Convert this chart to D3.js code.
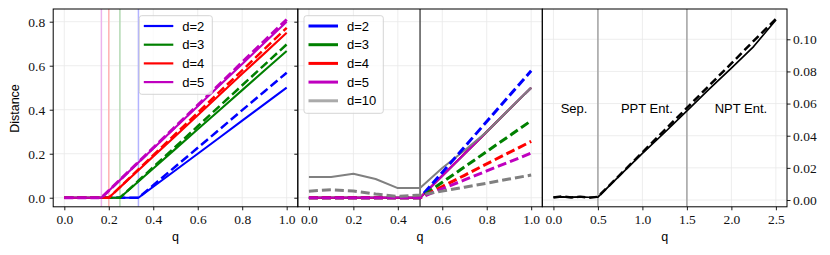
<!DOCTYPE html>
<html><head><meta charset="utf-8">
<script src="https://cdn.jsdelivr.net/npm/d3@7"></script>
<style>body{margin:0;background:#fff}svg{display:block}</style>
</head><body>
<script>
// ---------------- DATA ----------------
const p1Labels = ["d=2","d=3","d=4","d=5"];
const p1Q = [0, 0.1667, 0.2, 0.25, 0.3333, 0.4, 0.5, 0.6, 0.7, 0.8, 0.9, 1.0];
const p1SolidD2 = [0,0,0,0,0,0.05,0.125,0.2,0.275,0.35,0.425,0.5];
const p1SolidD3 = [0,0,0,0,0.074,0.133,0.222,0.311,0.4,0.489,0.578,0.667];
const p1SolidD4 = [0,0,0,0.047,0.125,0.188,0.281,0.375,0.469,0.563,0.656,0.75];
const p1SolidD5 = [0,0,0.032,0.08,0.16,0.224,0.32,0.416,0.512,0.608,0.704,0.8];
const p1DashD2 = [0,0,0,0,0,0.057,0.142,0.227,0.312,0.398,0.483,0.568];
const p1DashD3 = [0,0,0,0,0.077,0.139,0.232,0.325,0.418,0.511,0.604,0.697];
const p1DashD4 = [0,0,0,0.048,0.129,0.193,0.29,0.386,0.483,0.579,0.676,0.772];
const p1DashD5 = [0,0,0.032,0.081,0.162,0.227,0.324,0.421,0.518,0.616,0.713,0.81];
const p1Thresholds = [0.3333, 0.25, 0.2, 0.1667];

const p2Labels = ["d=2","d=3","d=4","d=5","d=10"];
const p2Q = [0,0.1,0.2,0.3,0.4,0.5,0.6,0.7,0.8,0.9,1.0];
const p2SolidD2 = [0,0,0,0,0,0,0.1,0.2,0.3,0.4,0.5];
const p2SolidD3 = [0,0,0,0,0,0,0.1,0.2,0.3,0.4,0.5];
const p2SolidD4 = [0,0,0,0,0,0,0.1,0.2,0.3,0.4,0.5];
const p2SolidD5 = [0,0,0,0,0,0,0.1,0.2,0.3,0.4,0.5];
const p2SolidD10 = [0.094,0.094,0.109,0.085,0.044,0.044,0.135,0.215,0.3,0.4,0.5];
const p2DashD2 = [0,0,0,0,0,0,0.115,0.231,0.346,0.462,0.577];
const p2DashD3 = [0,0,0,0,0,0,0.07,0.14,0.21,0.28,0.35];
const p2DashD4 = [0,0,0,0,0,0,0.051,0.102,0.154,0.205,0.256];
const p2DashD5 = [0,0,0,0,0,0,0.041,0.081,0.122,0.162,0.203];
const p2DashD10 = [0.030,0.036,0.031,0.017,0.006,0.012,0.030,0.048,0.066,0.085,0.103];
const p2Threshold = 0.5;

const p3Q = [0,0.1,0.2,0.3,0.4,0.5,0.75,1.0,1.25,1.5,1.75,2.0,2.25,2.5];
const p3Solid = [0.0018,0.0019,0.0018,0.0019,0.0017,0.0018,0.0155,0.029,0.042,0.0555,0.069,0.082,0.0955,0.112];
const p3Dash = [0.0015,0.0022,0.0016,0.0021,0.0014,0.0020,0.0158,0.0296,0.0435,0.0573,0.0712,0.085,0.099,0.1126];
const p3Bounds = [0.5, 1.5];
const p3Regions = ["Sep.","PPT Ent.","NPT Ent."];
const p3RegionQ = [0.232, 1.05, 2.107];
const p3RegionY = 0.057;

const p12XTicks = [0,0.2,0.4,0.6,0.8,1.0];
const p12YTicks = [0,0.2,0.4,0.6,0.8];
const p3XTicks = [0,0.5,1.0,1.5,2.0,2.5];
const p3YTicks = [0,0.02,0.04,0.06,0.08,0.10];

// ---------------- STYLE ----------------
const colors = ["#0000ff","#008000","#ff0000","#bf00bf","#808080"];
const fadedColors = ["#b3b3ff","#b3d9b3","#ffb3b3","#ecb3ec"];
const serif = "'Liberation Serif', 'Times New Roman', serif";
const sans = "'Liberation Sans', Arial, sans-serif";

const W = 830, H = 255;
const yTop = 9, yBot = 206.8;
const svg = d3.select("body").append("svg").attr("width", W).attr("height", H);

const x1 = d3.scaleLinear().domain([-0.05,1.05]).range([53.2,297.8]);
const x2 = d3.scaleLinear().domain([-0.05,1.05]).range([297.8,542.3]);
const x3 = d3.scaleLinear().domain([-0.125,2.625]).range([542.3,787]);
const y12 = d3.scaleLinear().domain([-0.0412,0.8577]).range([yBot, yTop]);
const y3 = d3.scaleLinear().domain([-0.00423,0.11885]).range([yBot, yTop]);

function grid(g, x, y, xt, yt) {
  const [xa, xb] = x.range();
  g.selectAll(null).data(xt).enter().append("line")
    .attr("x1", d=>x(d)).attr("x2", d=>x(d)).attr("y1", yTop).attr("y2", yBot)
    .attr("stroke", "#e8e8e8").attr("stroke-width", 0.8);
  g.selectAll(null).data(yt).enter().append("line")
    .attr("x1", xa).attr("x2", xb).attr("y1", d=>y(d)).attr("y2", d=>y(d))
    .attr("stroke", "#e8e8e8").attr("stroke-width", 0.8);
}
function clip(id, x) {
  const [a,b] = x.range();
  svg.append("clipPath").attr("id", id).append("rect")
    .attr("x", a).attr("y", yTop).attr("width", b-a).attr("height", yBot-yTop);
}
clip("c1", x1); clip("c2", x2); clip("c3", x3);

function series(g, x, y, q, v, color, width, dash) {
  g.append("path").datum(q.map((d,i)=>[d, v[i]]))
    .attr("d", d3.line().x(d=>x(d[0])).y(d=>y(d[1])))
    .attr("fill","none").attr("stroke", color).attr("stroke-width", width)
    .attr("stroke-dasharray", dash || null)
    .attr("stroke-linejoin","round");
}

function styleAxis(ax) {
  ax.select(".domain").remove();
  ax.selectAll("line").attr("stroke","#000").attr("stroke-width",0.9);
  ax.selectAll("text").attr("font-family", serif).attr("font-size", 13.5).attr("fill","#111");
}

// ---------- Panel 1 ----------
const g1 = svg.append("g");
grid(g1, x1, y12, p12XTicks, p12YTicks);
const g1c = g1.append("g").attr("clip-path","url(#c1)");
p1Thresholds.forEach((t,i) => {
  g1c.append("line").attr("x1", x1(t)).attr("x2", x1(t)).attr("y1", yTop).attr("y2", yBot)
    .attr("stroke", fadedColors[i]).attr("stroke-width", 1.5);
});
const p1S = [p1SolidD2,p1SolidD3,p1SolidD4,p1SolidD5];
const p1D = [p1DashD2,p1DashD3,p1DashD4,p1DashD5];
p1S.forEach((s,i) => {
  series(g1c, x1, y12, p1Q, s, colors[i], 2.1);
  series(g1c, x1, y12, p1Q, p1D[i], colors[i], i===3 ? 3 : 2.5, "9,4");
});

// ---------- Panel 2 ----------
const g2 = svg.append("g");
grid(g2, x2, y12, p12XTicks, p12YTicks);
const g2c = g2.append("g").attr("clip-path","url(#c2)");
g2c.append("line").attr("x1", x2(p2Threshold)).attr("x2", x2(p2Threshold)).attr("y1", yTop).attr("y2", yBot)
  .attr("stroke", "#555").attr("stroke-width", 1.5);
const p2S = [p2SolidD2,p2SolidD3,p2SolidD4,p2SolidD5,p2SolidD10];
const p2D = [p2DashD2,p2DashD3,p2DashD4,p2DashD5,p2DashD10];
p2S.forEach((s,i) => series(g2c, x2, y12, p2Q, s, colors[i], 2));
p2D.forEach((s,i) => series(g2c, x2, y12, p2Q, s, colors[i], 3, "9,4"));

// ---------- Panel 3 ----------
const g3 = svg.append("g");
grid(g3, x3, y3, p3XTicks, p3YTicks);
const g3c = g3.append("g").attr("clip-path","url(#c3)");
p3Bounds.forEach(b => {
  g3c.append("line").attr("x1", x3(b)).attr("x2", x3(b)).attr("y1", yTop).attr("y2", yBot)
    .attr("stroke", "#a8a8a8").attr("stroke-width", 1.6);
});
series(g3c, x3, y3, p3Q, p3Solid, "#000", 1.7);
series(g3c, x3, y3, p3Q, p3Dash, "#000", 2.5, "8,4");
p3Regions.forEach((t,i) => {
  g3.append("text").attr("x", x3(p3RegionQ[i])).attr("y", y3(p3RegionY))
    .attr("text-anchor","middle").attr("dominant-baseline","central")
    .attr("font-family", sans).attr("font-size", 13).text(t);
});

// ---------- Axes ----------
const fmt1 = d3.format(".1f"), fmt2 = d3.format(".2f");
styleAxis(svg.append("g").attr("transform",`translate(0,${yBot})`)
  .call(d3.axisBottom(x1).tickValues(p12XTicks).tickFormat(fmt1).tickSize(3.5).tickPadding(4)));
styleAxis(svg.append("g").attr("transform",`translate(0,${yBot})`)
  .call(d3.axisBottom(x2).tickValues(p12XTicks).tickFormat(fmt1).tickSize(3.5).tickPadding(4)));
styleAxis(svg.append("g").attr("transform",`translate(0,${yBot})`)
  .call(d3.axisBottom(x3).tickValues(p3XTicks).tickFormat(fmt1).tickSize(3.5).tickPadding(4)));
styleAxis(svg.append("g").attr("transform",`translate(${x1.range()[0]},0)`)
  .call(d3.axisLeft(y12).tickValues(p12YTicks).tickFormat(fmt1).tickSize(3.5).tickPadding(4.5)));
styleAxis(svg.append("g").attr("transform",`translate(${x2.range()[0]},0)`)
  .call(d3.axisLeft(y12).tickValues(p12YTicks).tickFormat("").tickSize(3.5)));
styleAxis(svg.append("g").attr("transform",`translate(${x3.range()[1]},0)`)
  .call(d3.axisRight(y3).tickValues(p3YTicks).tickFormat(fmt2).tickSize(3.5).tickPadding(2.5)));

// frames
[x1,x2,x3].forEach(x => {
  const [a,b] = x.range();
  svg.append("rect").attr("x", a).attr("y", yTop).attr("width", b-a).attr("height", yBot-yTop)
    .attr("fill","none").attr("stroke","#000").attr("stroke-width",1);
});

// labels
[x1,x2,x3].forEach(x => {
  const [a,b] = x.range();
  svg.append("text").attr("x", (a+b)/2).attr("y", 241).attr("text-anchor","middle")
    .attr("font-family", sans).attr("font-size", 12.5).text("q");
});
svg.append("text").attr("transform","translate(18.5,108.5) rotate(-90)").attr("text-anchor","middle")
  .attr("font-family", sans).attr("font-size", 12.5).text("Distance");

// ---------- Legends ----------
function legend(x0, y0, w, h, labels, lineW, handleColors) {
  const g = svg.append("g");
  g.append("rect").attr("x", x0).attr("y", y0).attr("width", w).attr("height", h).attr("rx", 2.5)
    .attr("fill","#fff").attr("fill-opacity",0.8).attr("stroke","#d0d0d0").attr("stroke-width",0.9);
  labels.forEach((l,i) => {
    const yy = y0 + 10.3 + i*18.7;
    g.append("line").attr("x1", x0+4.5).attr("x2", x0+34).attr("y1", yy).attr("y2", yy)
      .attr("stroke", handleColors[i]).attr("stroke-width", lineW);
    g.append("text").attr("x", x0+43).attr("y", yy).attr("dominant-baseline","central")
      .attr("font-family", sans).attr("font-size", 13).text(l);
  });
}
legend(139.3, 15.7, 73, 78.6, p1Labels, 2.2, colors);
legend(304, 15.7, 79.3, 97.6, p2Labels, 3, ["#0000ff","#008000","#ff0000","#bf00bf","#aaaaaa"]);
</script>
</body></html>
